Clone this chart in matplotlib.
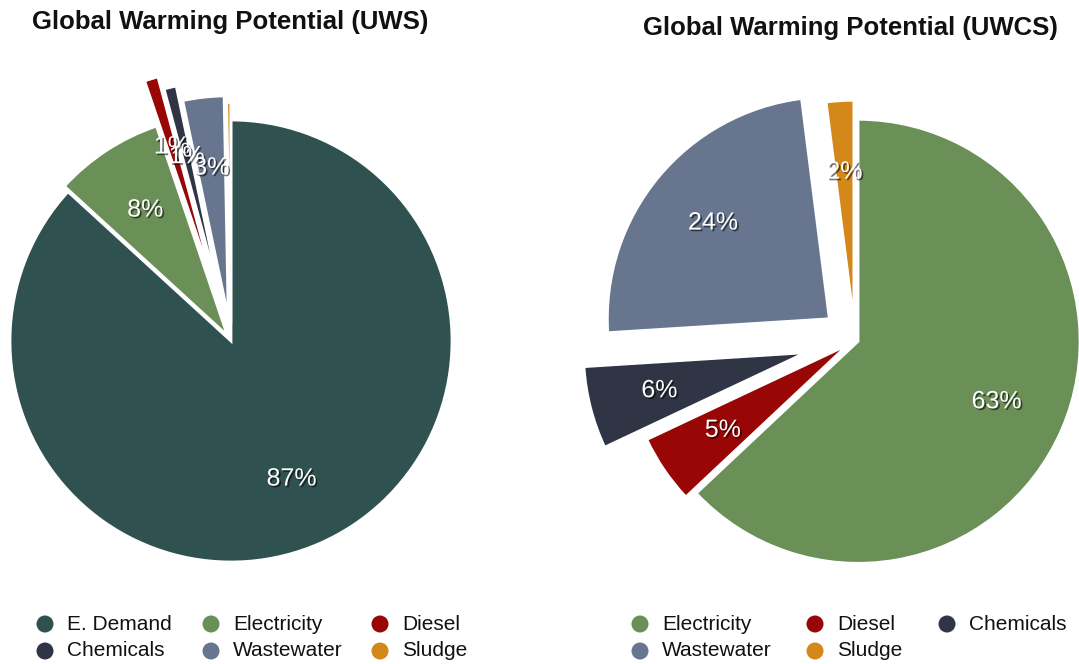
import matplotlib.pyplot as plt
import matplotlib.patheffects as pe

plt.rcParams['font.family'] = ['Liberation Sans', 'DejaVu Sans']

# Dados dos dois cenarios (percentual do potencial de aquecimento global)
uws_labels = ['E. Demand', 'Electricity', 'Diesel', 'Chemicals', 'Wastewater', 'Sludge']
uws_values = [86.8, 8.0, 1.0, 0.9, 3.0, 0.3]
uws_colors = ['#2f5150', '#6a8f57', '#990606', '#2f3544', '#67758f', '#d4881a']
uws_explode = [0.0, 0.03, 0.24, 0.18, 0.11, 0.08]

uwcs_labels = ['Electricity', 'Diesel', 'Chemicals', 'Wastewater', 'Sludge']
uwcs_values = [63, 5, 6, 24, 2]
uwcs_colors = ['#6a8f57', '#990606', '#2f3544', '#67758f', '#d4881a']
uwcs_explode = [0.015, 0.04, 0.23, 0.15, 0.08]

W, H = 1079, 664
fig = plt.figure(figsize=(W / 100, H / 100), dpi=100)

sombra = [pe.SimplePatchShadow(offset=(1.2, -1.2), shadow_rgbFace='black', alpha=0.55), pe.Normal()]


def fmt(p):
    return '%.0f%%' % p if p >= 0.5 else ''


def pizza(cx, cy, r, valores, cores, explode, titulo, tx, ty):
    ax = fig.add_axes([(cx - 1.5 * r) / W, (H - cy - 1.5 * r) / H, 3 * r / W, 3 * r / H])
    wedges, textos, pct = ax.pie(valores, colors=cores, explode=explode, startangle=90,
                                 counterclock=False, autopct=fmt, pctdistance=0.68,
                                 wedgeprops=dict(edgecolor='white', linewidth=2.0))
    for t in pct:
        t.set_color('white')
        t.set_fontsize(18)
        t.set_path_effects(sombra)
    ax.set_xlim(-1.5, 1.5)
    ax.set_ylim(-1.5, 1.5)
    for w in wedges:
        w.set_clip_on(False)
    fig.text(tx / W, 1 - ty / H, titulo, ha='center', va='center',
             fontsize=18.5, fontweight='bold', color='#111111')
    return ax


pizza(231, 341, 221, uws_values, uws_colors, uws_explode, 'Global Warming Potential (UWS)', 230, 22)
pizza(855, 340, 222, uwcs_values, uwcs_colors, uwcs_explode, 'Global Warming Potential (UWCS)', 850, 28)

# Legendas desenhadas em uma camada com coordenadas em pixels
leg = fig.add_axes([0, 0, 1, 1])
leg.set_xlim(0, W)
leg.set_ylim(H, 0)
leg.axis('off')


def legenda(nomes, cores, colunas_x, linhas_y):
    for i, (n, c) in enumerate(zip(nomes, cores)):
        x = colunas_x[i % 3]
        y = linhas_y[i // 3]
        leg.scatter([x], [y], s=150, color=c, edgecolor='none')
        leg.text(x + 22, y, n, fontsize=15, va='center', ha='left', color='#111111')


legenda(uws_labels, uws_colors, [45, 211, 380], [624, 651])
legenda(uwcs_labels, uwcs_colors, [640, 815, 947], [624, 651])

plt.savefig('out.png', dpi=100)
